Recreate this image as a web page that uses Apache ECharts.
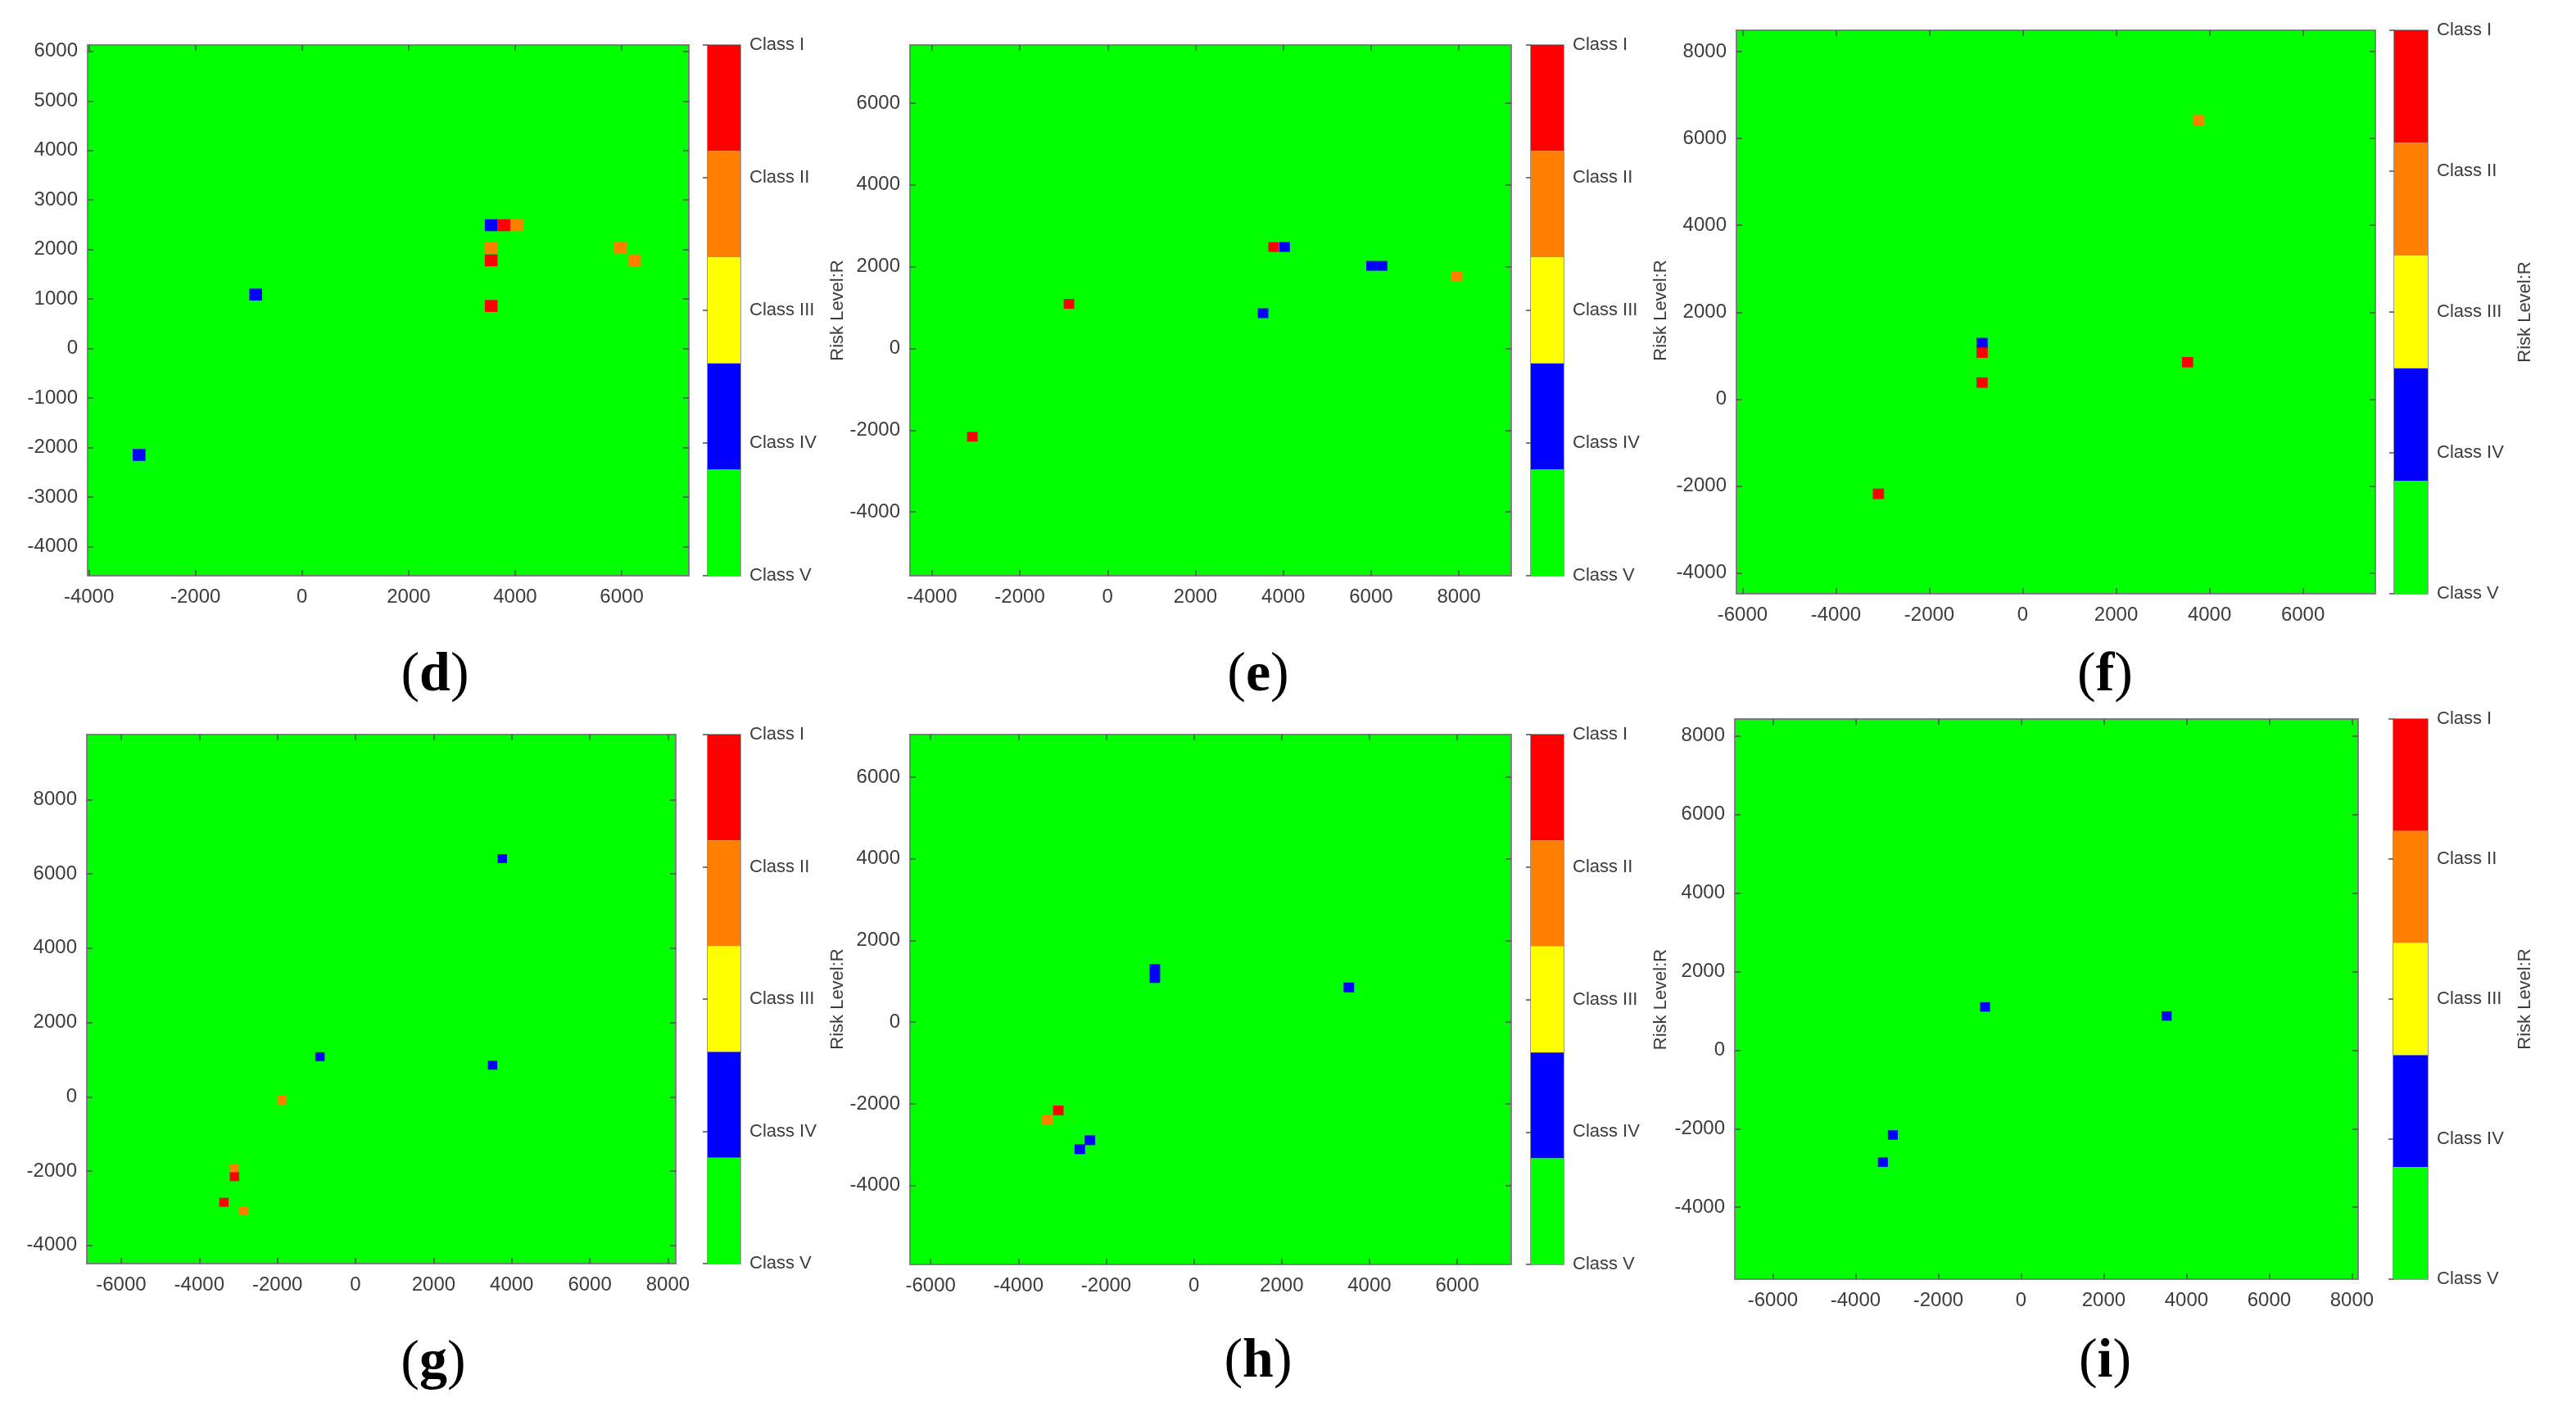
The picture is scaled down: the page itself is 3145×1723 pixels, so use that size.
<!DOCTYPE html>
<html>
<head>
<meta charset="utf-8">
<script src="https://cdn.jsdelivr.net/npm/echarts@6/dist/echarts.min.js"></script>
<style>
  html, body { margin: 0; padding: 0; background: #fff; }
  #chart { width: 3145px; height: 1723px; }
</style>
</head>
<body>
<div id="chart"></div>
<script>
// Risk classes, top of the colour bar first
const classNames = ['Class I', 'Class II', 'Class III', 'Class IV', 'Class V'];
const classColors = ['#ff0000', '#ff8000', '#ffff00', '#0000ff', '#00ff00'];
const panelLetters = ['d', 'e', 'f', 'g', 'h', 'i'];

// grid resolution of the map (metres)
const cellSize = 240;

// cells that are not Class V: [x, y, class number 1..5]
const cellsD = [
  [-3060, -2150, 4], [-870, 1090, 4], [3550, 2490, 4], [3790, 2490, 1], [4030, 2490, 2],
  [3550, 2030, 2], [3550, 1780, 1], [3550, 860, 1], [5980, 2030, 2], [6240, 1780, 2],
];
const cellsE = [
  [-3080, -2160, 1], [-880, 1090, 1], [3780, 2480, 1], [4030, 2480, 4], [3540, 860, 4],
  [6010, 2020, 4], [6250, 2020, 4], [7950, 1770, 2],
];
const cellsF = [
  [3760, 6420, 2], [-870, 1290, 4], [-870, 1070, 1], [-870, 380, 1], [3530, 850, 1], [-3090, -2180, 1],
];
const cellsG = [
  [3760, 6410, 4], [-910, 1080, 4], [3510, 850, 4], [-1880, -90, 2],
  [-3100, -1920, 2], [-3100, -2150, 1], [-3370, -2840, 1], [-2870, -3070, 2],
];
const cellsH = [
  [-890, 1300, 4], [-890, 1080, 4], [3530, 850, 4], [-3090, -2160, 1],
  [-3340, -2380, 2], [-2370, -2890, 4], [-2600, -3110, 4],
];
const cellsI = [
  [-870, 1100, 4], [3520, 870, 4], [-3100, -2160, 4], [-3340, -2850, 4],
];

// axis extents
const xRangeD = [-4025, 7260], yRangeD = [-4590, 6130];
const xRangeE = [-4500, 9190], yRangeE = [-5560, 7420];
const xRangeF = [-6130, 7550], yRangeF = [-4480, 8490];
const xRangeG = [-6880, 8200], yRangeG = [-4490, 9750];
const xRangeH = [-6470, 7230], yRangeH = [-5930, 7040];
const xRangeI = [-6920, 8150], yRangeI = [-5830, 8430];

// tick labels
const xTicksD = [-4000, -2000, 0, 2000, 4000, 6000];
const yTicksD = [-4000, -3000, -2000, -1000, 0, 1000, 2000, 3000, 4000, 5000, 6000];
const xTicksE = [-4000, -2000, 0, 2000, 4000, 6000, 8000];
const yTicksE = [-4000, -2000, 0, 2000, 4000, 6000];
const xTicksF = [-6000, -4000, -2000, 0, 2000, 4000, 6000];
const yTicksF = [-4000, -2000, 0, 2000, 4000, 6000, 8000];
const xTicksG = [-6000, -4000, -2000, 0, 2000, 4000, 6000, 8000];
const yTicksG = [-4000, -2000, 0, 2000, 4000, 6000, 8000];
const xTicksH = [-6000, -4000, -2000, 0, 2000, 4000, 6000];
const yTicksH = [-4000, -2000, 0, 2000, 4000, 6000];
const xTicksI = [-6000, -4000, -2000, 0, 2000, 4000, 6000, 8000];
const yTicksI = [-4000, -2000, 0, 2000, 4000, 6000, 8000];

const classTicks = [1, 2, 3, 4, 5];
const barTitle = 'Risk Level:R';

const panels = [
  { cells: cellsD, xr: xRangeD, yr: yRangeD, xt: xTicksD, yt: yTicksD },
  { cells: cellsE, xr: xRangeE, yr: yRangeE, xt: xTicksE, yt: yTicksE },
  { cells: cellsF, xr: xRangeF, yr: yRangeF, xt: xTicksF, yt: yTicksF },
  { cells: cellsG, xr: xRangeG, yr: yRangeG, xt: xTicksG, yt: yTicksG },
  { cells: cellsH, xr: xRangeH, yr: yRangeH, xt: xTicksH, yt: yTicksH },
  { cells: cellsI, xr: xRangeI, yr: yRangeI, xt: xTicksI, yt: yTicksI },
];

// layout of each panel in pixels: plot box, colour bar box, letter position
const layout = [
  { left: 107, top: 55, width: 734, height: 648, cbLeft: 864, cbWidth: 40, lx: 531, ly: 825 },
  { left: 1111, top: 55, width: 734, height: 648, cbLeft: 1869, cbWidth: 40, lx: 1536, ly: 825 },
  { left: 2120, top: 37, width: 780, height: 688, cbLeft: 2923, cbWidth: 41, lx: 2570, ly: 825 },
  { left: 106, top: 897, width: 719, height: 646, cbLeft: 864, cbWidth: 40, lx: 529, ly: 1665 },
  { left: 1111, top: 897, width: 734, height: 647, cbLeft: 1869, cbWidth: 40, lx: 1536, ly: 1663 },
  { left: 2118, top: 878, width: 761, height: 684, cbLeft: 2922, cbWidth: 42, lx: 2570, ly: 1663 },
];

const FONT = "'Liberation Sans', Arial, sans-serif";
const TEXT = '#3c3c3c';
const LINE = '#7a7a7a';

const mainAxis = (gridIndex, position, range, ticks, withLabels) => ({
  type: 'value',
  gridIndex,
  position,
  min: range[0],
  max: range[1],
  axisLine: { show: true, onZero: false, lineStyle: { color: LINE, width: 1.5 } },
  axisTick: { show: true, inside: true, length: 7, customValues: ticks, lineStyle: { color: '#505050', width: 1.5 } },
  axisLabel: {
    show: withLabels,
    customValues: ticks,
    formatter: (v) => String(v),
    color: TEXT,
    fontFamily: FONT,
    fontSize: 24,
    margin: position === 'bottom' ? 14 : 12,
  },
  splitLine: { show: false },
});

// a cell of the risk map, sized through the axes
const renderCell = (params, api) => {
  const x = api.value(0);
  const y = api.value(1);
  const cls = api.value(2);
  const a = api.coord([x - cellSize / 2, y + cellSize / 2]);
  const b = api.coord([x + cellSize / 2, y - cellSize / 2]);
  return {
    type: 'rect',
    shape: { x: a[0], y: a[1], width: b[0] - a[0], height: b[1] - a[1] },
    style: { fill: classColors[cls - 1] },
  };
};

// one block of the colour bar; classes share the bar range equally
const renderBlock = (params, api) => {
  const k = api.value(1);
  const span = (classTicks[classTicks.length - 1] - classTicks[0]) / classNames.length;
  const hi = classTicks[classTicks.length - 1] - span * k;
  const a = api.coord([0, hi]);
  const b = api.coord([1, hi - span]);
  return {
    type: 'rect',
    shape: { x: a[0], y: a[1], width: b[0] - a[0], height: b[1] - a[1] },
    style: { fill: classColors[k] },
  };
};

const grid = [];
const xAxis = [];
const yAxis = [];
const series = [];
const graphic = [];

panels.forEach((p, i) => {
  const L = layout[i];
  const g = 2 * i;
  grid.push({
    left: L.left, top: L.top, width: L.width, height: L.height,
    show: true, backgroundColor: classColors[4], borderColor: LINE, borderWidth: 1.5,
  });
  grid.push({
    left: L.cbLeft, top: L.top, width: L.cbWidth, height: L.height,
    show: true, backgroundColor: 'transparent', borderColor: LINE, borderWidth: 1.5,
  });

  xAxis.push(mainAxis(g, 'bottom', p.xr, p.xt, true));
  xAxis.push(mainAxis(g, 'top', p.xr, p.xt, false));
  xAxis.push({ type: 'value', gridIndex: g + 1, min: 0, max: 1, show: false });

  yAxis.push(mainAxis(g, 'left', p.yr, p.yt, true));
  yAxis.push(mainAxis(g, 'right', p.yr, p.yt, false));
  yAxis.push({
    type: 'value',
    gridIndex: g + 1,
    position: 'right',
    min: classTicks[0],
    max: classTicks[classTicks.length - 1],
    name: barTitle,
    nameLocation: 'middle',
    nameRotate: 90,
    nameGap: 108,
    nameTextStyle: { color: TEXT, fontFamily: FONT, fontSize: 22 },
    axisLine: { show: false },
    axisTick: { show: true, inside: true, length: 6, customValues: classTicks, lineStyle: { color: '#505050', width: 1.5 } },
    axisLabel: {
      customValues: classTicks,
      formatter: (v) => classNames[classNames.length - v],
      color: TEXT,
      fontFamily: FONT,
      fontSize: 22,
      margin: 11,
    },
    splitLine: { show: false },
  });

  series.push({
    type: 'custom',
    xAxisIndex: 3 * i,
    yAxisIndex: 3 * i,
    renderItem: renderCell,
    encode: { x: 0, y: 1 },
    data: p.cells,
    silent: true,
    z: 2,
  });
  series.push({
    type: 'custom',
    xAxisIndex: 3 * i + 2,
    yAxisIndex: 3 * i + 2,
    renderItem: renderBlock,
    encode: { x: 0, y: 1 },
    data: classNames.map((n, k) => [0, k]),
    silent: true,
    z: 1,
  });

  graphic.push({
    type: 'text',
    x: L.lx,
    y: L.ly,
    style: {
      text: '{p|(}{b|' + panelLetters[i] + '}{p|)}',
      align: 'center',
      verticalAlign: 'middle',
      rich: {
        p: { fontFamily: "'Liberation Serif', 'Times New Roman', serif", fontSize: 68, fill: '#000' },
        b: { fontFamily: "'Liberation Serif', 'Times New Roman', serif", fontSize: 68, fontWeight: 'bold', fill: '#000' },
      },
    },
  });
});

const chart = echarts.init(document.getElementById('chart'), null, { renderer: 'canvas' });
chart.setOption({
  animation: false,
  backgroundColor: '#ffffff',
  grid,
  xAxis,
  yAxis,
  series,
  graphic,
});
</script>
</body>
</html>
